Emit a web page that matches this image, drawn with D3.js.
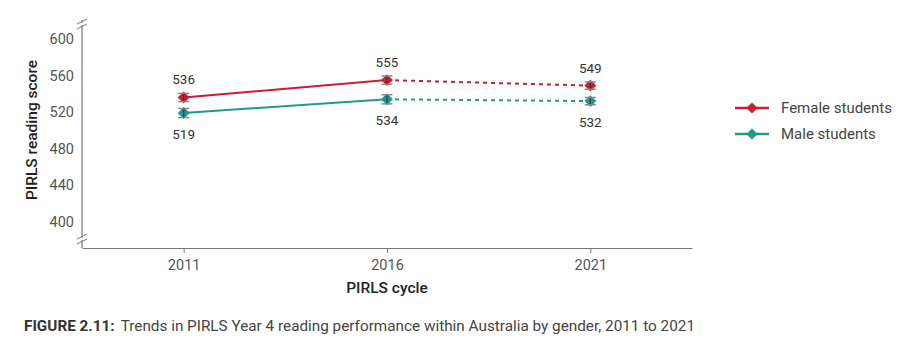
<!DOCTYPE html>
<meta charset="utf-8">
<style>
body { margin: 0; background: #fff; }
text { font-family: Roboto, "Noto Sans", sans-serif; }
.tick text { font-size: 14.5px; fill: #555; }
.axisTitle { font-size: 15.5px; font-weight: 500; fill: #222; }
.valueLabel { font-size: 13.5px; fill: #333; }
.legendLabel { font-size: 15px; fill: #444; }
.caption { font-size: 15.3px; fill: #444; }
</style>
<body>
<script src="https://d3js.org/d3.v7.min.js"></script>
<script>

const cycles = ["2011", "2016", "2021"];
const female = [536, 555, 549];
const male = [519, 534, 532];
const femaleErr = [4.5, 4.5, 4];
const maleErr = [5, 5, 4];
const yTicks = [400, 440, 480, 520, 560, 600];

const width = 902, height = 350;

const series = [
  {name: "Female students", values: female, err: femaleErr, color: "#c81f2f", labelAbove: true},
  {name: "Male students", values: male, err: maleErr, color: "#1f9a8b", labelAbove: false}
];

let svg = d3.select("body").append("svg")
    .attr("width", width)
    .attr("height", height);

let x = d3.scalePoint()
    .domain(cycles)
    .range([82, 692])
    .padding(0.5);

let y = d3.scaleLinear()
    .domain([400, 600])
    .range([221.7, 39]);

// x axis
let xAxis = svg.append("g")
    .attr("transform", "translate(0,248)")
    .call(d3.axisBottom(x).tickSize(5).tickSizeOuter(0).tickPadding(7));
xAxis.select(".domain").attr("stroke", "#777").attr("stroke-width", 1.2);
xAxis.selectAll(".tick line").attr("stroke", "#777");

// y axis: plain line with breaks
svg.append("line")
    .attr("x1", 82).attr("x2", 82)
    .attr("y1", 20).attr("y2", 248)
    .attr("stroke", "#777").attr("stroke-width", 1.2);

[24, 239].forEach(by => {
  [-2.5, 2.5].forEach(off => {
    svg.append("line")
      .attr("x1", 77).attr("x2", 87)
      .attr("y1", by + off + 2.5).attr("y2", by + off - 2.5)
      .attr("stroke", "#777").attr("stroke-width", 1);
  });
  svg.append("line")
    .attr("x1", 82).attr("x2", 82)
    .attr("y1", by - 1).attr("y2", by + 1)
    .attr("stroke", "#fff").attr("stroke-width", 2);
});

svg.append("g")
  .selectAll("text")
  .data(yTicks)
  .join("text")
    .attr("x", 74)
    .attr("y", d => y(d))
    .attr("dy", "0.35em")
    .attr("text-anchor", "end")
    .style("font-size", "14.5px")
    .style("fill", "#555")
    .text(d => d);

svg.append("text")
    .attr("class", "axisTitle")
    .attr("transform", "translate(37,130) rotate(-90)")
    .attr("text-anchor", "middle")
    .text("PIRLS reading score");

svg.append("text")
    .attr("class", "axisTitle")
    .attr("x", x("2016"))
    .attr("y", 293)
    .attr("text-anchor", "middle")
    .text("PIRLS cycle");

// series
series.forEach(s => {
  const pts = cycles.map((c, i) => ({c, v: s.values[i], e: s.err[i]}));
  const line = d3.line().x(d => x(d.c)).y(d => y(d.v));
  svg.append("path")
    .attr("d", line(pts.slice(0, 2)))
    .attr("fill", "none")
    .attr("stroke", s.color)
    .attr("stroke-width", 2);
  svg.append("path")
    .attr("d", line(pts.slice(1, 3)))
    .attr("fill", "none")
    .attr("stroke", s.color)
    .attr("stroke-width", 2)
    .attr("stroke-dasharray", "4,4");

  const g = svg.append("g").selectAll("g").data(pts).join("g");
  g.append("path")
    .attr("d", d3.symbol(d3.symbolDiamond2, 90)())
    .attr("transform", d => `translate(${x(d.c)},${y(d.v)})`)
    .attr("fill", s.color);
  g.append("line")
    .attr("x1", d => x(d.c)).attr("x2", d => x(d.c))
    .attr("y1", d => y(d.v - d.e)).attr("y2", d => y(d.v + d.e))
    .attr("stroke", "#333").attr("stroke-width", 1.2);
  [1, -1].forEach(sign => {
    g.append("line")
      .attr("x1", d => x(d.c) - 5.5).attr("x2", d => x(d.c) + 5.5)
      .attr("y1", d => y(d.v + sign * d.e)).attr("y2", d => y(d.v + sign * d.e))
      .attr("stroke", "#888").attr("stroke-width", 1.5);
  });
  g.append("text")
    .attr("class", "valueLabel")
    .attr("x", d => x(d.c))
    .attr("y", d => s.labelAbove ? y(d.v) - 13 : y(d.v) + 26)
    .attr("text-anchor", "middle")
    .text(d => d.v);
});

// legend
let legend = svg.append("g").selectAll("g")
    .data(series)
    .join("g")
    .attr("transform", (d, i) => `translate(735,${108 + i * 26})`);
legend.append("line")
    .attr("x1", 0).attr("x2", 34)
    .attr("stroke", d => d.color).attr("stroke-width", 2.5);
legend.append("path")
    .attr("d", d3.symbol(d3.symbolDiamond2, 80)())
    .attr("transform", "translate(17,0)")
    .attr("fill", d => d.color);
legend.append("text")
    .attr("class", "legendLabel")
    .attr("x", 46)
    .attr("dy", "0.35em")
    .text(d => d.name);

// caption
let cap = svg.append("text")
    .attr("class", "caption")
    .attr("x", 24)
    .attr("y", 331);
cap.append("tspan").attr("font-weight", 700).attr("fill", "#333").text("FIGURE 2.11:");
cap.append("tspan").attr("dx", 6).text("Trends in PIRLS Year 4 reading performance within Australia by gender, 2011 to 2021");

</script>
</body>
